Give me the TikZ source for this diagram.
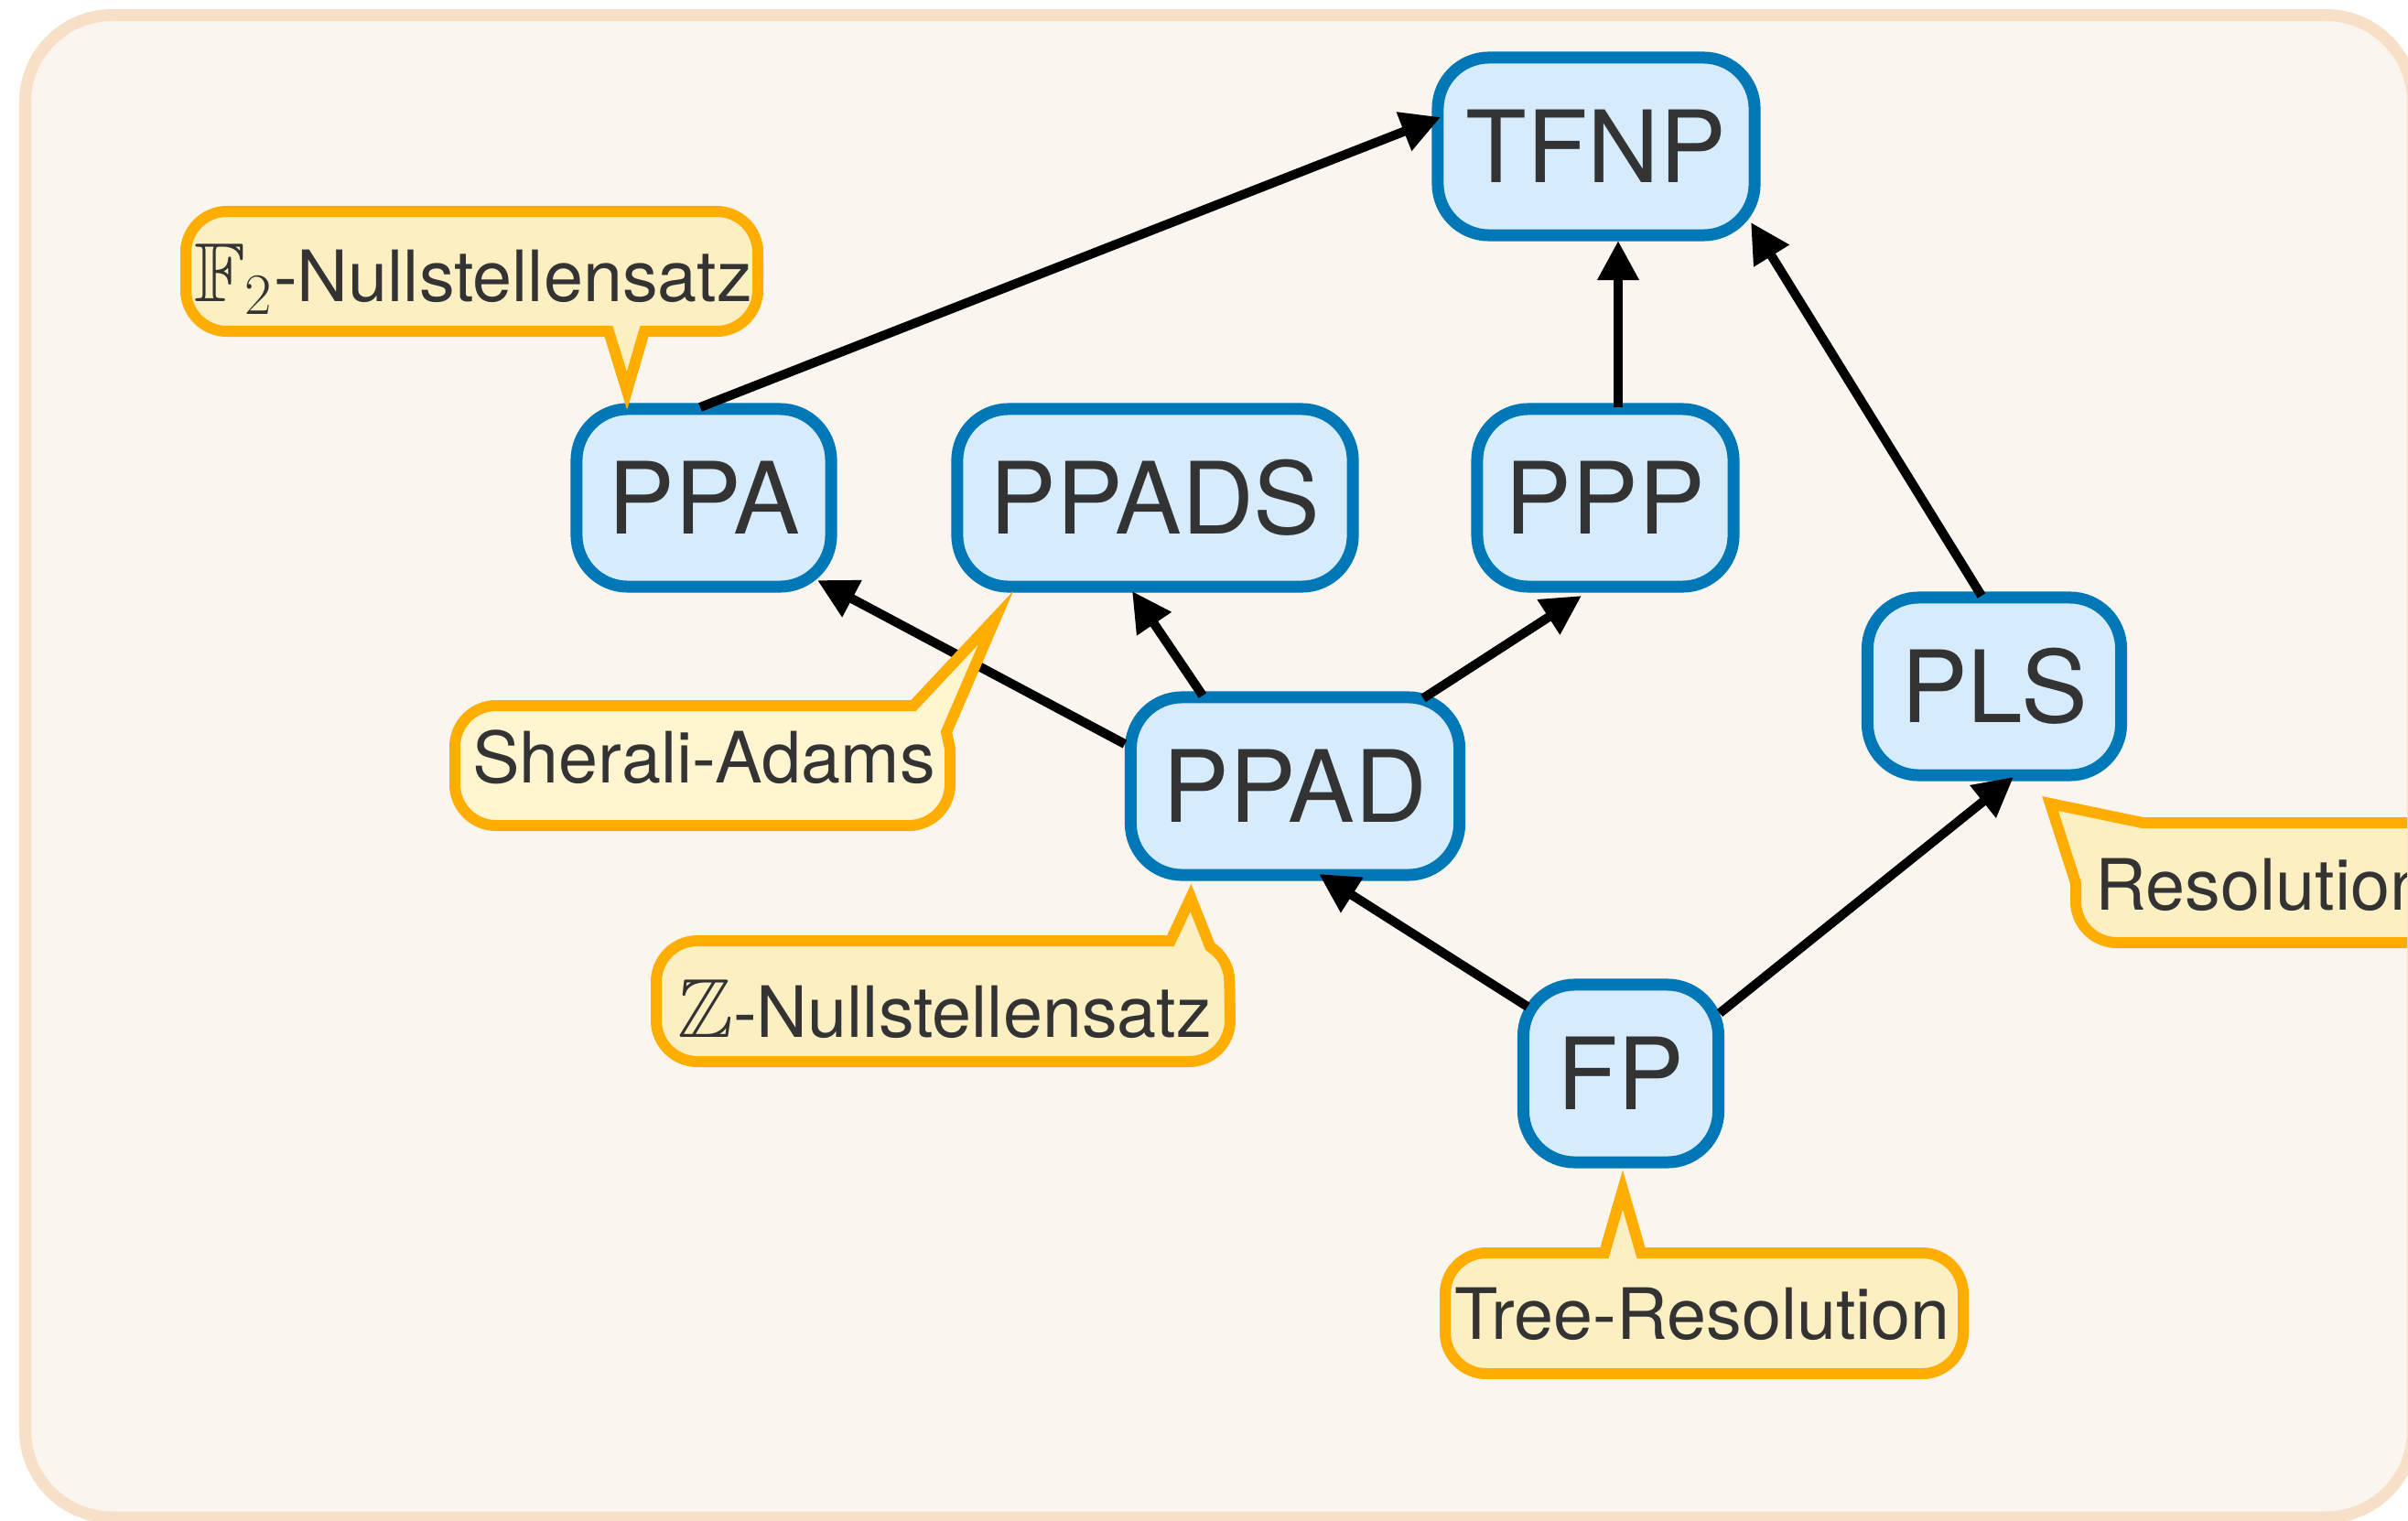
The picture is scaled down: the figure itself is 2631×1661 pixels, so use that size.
\RequirePackage{fix-cm}
\documentclass[tikz,border=0pt]{standalone}
\usepackage{fontspec}
\setmainfont{TeX Gyre Heros}
\usepackage{amssymb}
\usetikzlibrary{arrows.meta,calc}

\definecolor{framefill}{HTML}{FAF5EE}
\definecolor{frameline}{HTML}{F8E0C8}
\definecolor{classfill}{HTML}{D6EBFC}
\definecolor{classline}{HTML}{0077B6}
\definecolor{notefill}{HTML}{FCEFC2}
\definecolor{notefilllight}{HTML}{FFF5D1}
\definecolor{noteline}{HTML}{FFAE00}
\definecolor{ink}{HTML}{333333}

% blackboard-bold field symbol, set a little larger than the callout text
\newcommand{\fieldsym}[1]{{\fontsize{26}{30}\selectfont$#1$}}

\begin{document}
\begin{tikzpicture}[x=0.01cm,y=0.01cm,
  cls/.style={draw=classline, fill=classfill, line width=0.13cm,
    rounded corners=0.56cm, minimum height=1.94cm, inner sep=0pt,
    text=ink, font=\fontsize{31}{37}\selectfont},
  note/.style={draw=noteline, fill=notefill, line width=0.12cm, line join=miter},
  notetext/.style={text=ink, font=\fontsize{22}{26}\selectfont, inner sep=0pt, anchor=base},
  link/.style={line width=0.1cm, -{Triangle[length=0.43cm,width=0.43cm]}},
]
\useasboundingbox (0,0) rectangle (2631,-1661);
\clip (0,0) rectangle (2631,-1661);
\fill[white] (0,0) rectangle (2631,-1661);

% panel background
\fill[framefill, rounded corners=0.95cm] (27.5,-16.5) rectangle (2636.5,-1658);

% complexity classes
\node[cls, minimum width=3.46cm] (TFNP)  at (1744,-160)  {TFNP};
\node[cls, minimum width=2.78cm] (PPA)   at (769,-544)   {PPA};
\node[cls, minimum width=4.32cm] (PPADS) at (1262,-544)  {PPADS};
\node[cls, minimum width=2.80cm] (PPP)   at (1754,-544)  {PPP};
\node[cls, minimum width=2.77cm] (PLS)   at (2179,-750)  {PLS};
\node[cls, minimum width=3.59cm] (PPAD)  at (1415,-859)  {PPAD};
\node[cls, minimum width=2.13cm] (FP)    at (1771,-1173) {FP};

% inclusions
\draw[link] ($(PPA)+(-4,99)$)     -- ($(TFNP)+(-170,32)$);
\draw[link] ($(PPP)+(14,99)$)     -- ($(TFNP)+(24,-103)$);
\draw[link] ($(PLS)+(-14,99)$)    -- ($(TFNP)+(169,-83)$);
\draw[link] ($(PPAD)+(-186,46)$)  -- ($(PPA)+(124,-90)$);
\draw[link] ($(PPAD)+(-101,99)$)  -- ($(PPADS)+(-25,-102)$);
\draw[link] ($(PPAD)+(140,96)$)   -- ($(PPP)+(-26,-107)$);
\draw[link] ($(FP)+(-102,73)$)    -- ($(PPAD)+(26,-96)$);
\draw[link] ($(FP)+(108,66)$)     -- ($(PLS)+(21,-99)$);

% proof-system callouts
\draw[note] (248,-231) -- (783,-231) arc[start angle=90,end angle=0,radius=45]
  -- (828,-317) arc[start angle=0,end angle=-90,radius=45]
  -- (704,-362) -- (685,-427) -- (665,-362)
  -- (248,-362) arc[start angle=-90,end angle=-180,radius=45]
  -- (203,-276) arc[start angle=180,end angle=90,radius=45] -- cycle;
\node[notetext] (f2note) at (517,-330) {\fieldsym{\mathbb{F}_2}-Nullstellensatz};

\draw[note, fill=notefilllight] (542,-771) -- (998,-771) -- (1088,-675) -- (1034,-800)
  -- (1038,-818) -- (1038,-857) arc[start angle=0,end angle=-90,radius=45]
  -- (542,-902) arc[start angle=-90,end angle=-180,radius=45]
  -- (497,-816) arc[start angle=180,end angle=90,radius=45] -- cycle;
\node[notetext] (sanote) at (769,-855) {Sherali-Adams};

\draw[note] (762,-1028) -- (1279,-1028) -- (1301,-981) -- (1322.2,-1034.4)
  arc[start angle=58,end angle=0,radius=45]
  -- (1344,-1115) arc[start angle=0,end angle=-90,radius=45]
  -- (762,-1160) arc[start angle=-90,end angle=-180,radius=45]
  -- (717,-1073) arc[start angle=180,end angle=90,radius=45] -- cycle;
\node[notetext] (znote) at (1032,-1133) {\fieldsym{\mathbb{Z}}-Nullstellensatz};

\draw[note] (1624,-1369) -- (1753,-1369) -- (1773,-1300) -- (1793,-1369)
  -- (2100,-1369) arc[start angle=90,end angle=0,radius=45]
  -- (2145,-1456) arc[start angle=0,end angle=-90,radius=45]
  -- (1624,-1501) arc[start angle=-90,end angle=-180,radius=45]
  -- (1579,-1414) arc[start angle=180,end angle=90,radius=45] -- cycle;
\node[notetext] (treenote) at (1860,-1463) {Tree-Resolution};

\draw[note] (2341,-899) -- (2700,-899) -- (2700,-1030)
  -- (2313,-1030) arc[start angle=-90,end angle=-180,radius=45]
  -- (2268,-965) -- (2240,-878) -- cycle;
\node[notetext, anchor=base west] (resnote) at (2289,-994) {Resolution};

% panel border
\draw[frameline, line width=0.13cm, rounded corners=0.95cm] (27.5,-16.5) rectangle (2636.5,-1658);
\end{tikzpicture}
\end{document}
